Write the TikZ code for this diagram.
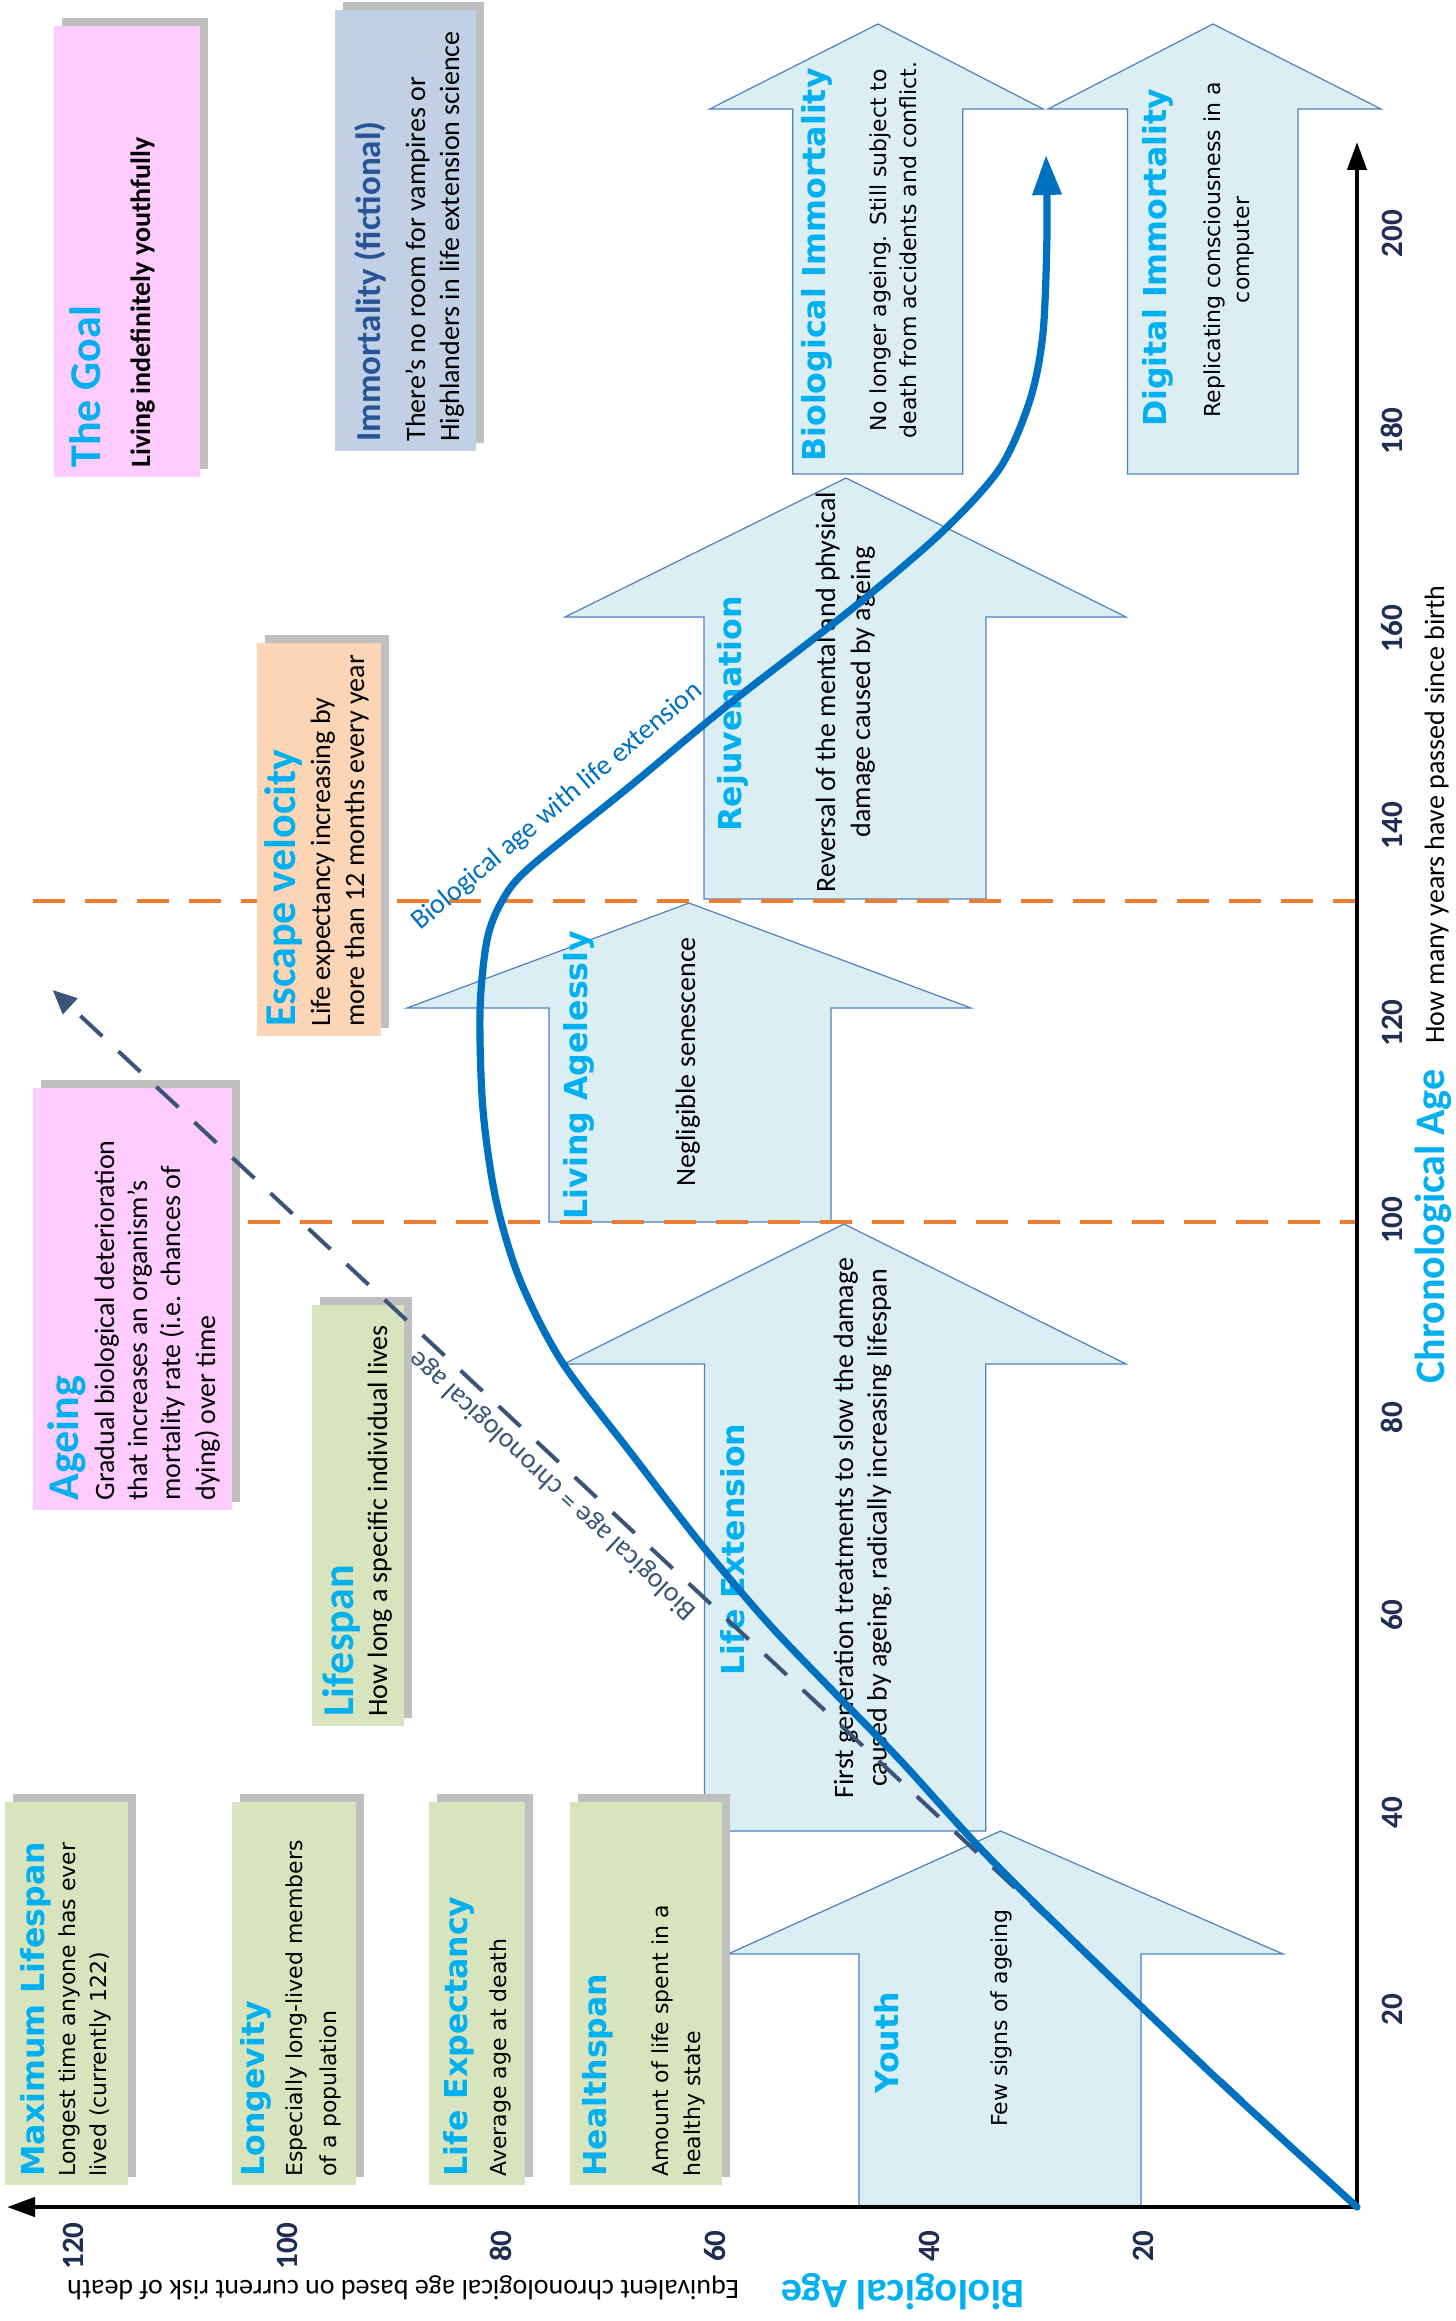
\documentclass[tikz,border=0pt]{standalone}
\usepackage{fontspec}
\setmainfont{Carlito}
\newfontfamily\dvfont{DejaVu Sans}
\usetikzlibrary{arrows.meta}
\definecolor{cyanT}{RGB}{0,176,240}
\definecolor{pinkB}{RGB}{255,204,255}
\definecolor{slateB}{RGB}{193,208,228}
\definecolor{peachB}{RGB}{251,213,181}
\definecolor{greenB}{RGB}{215,228,189}
\definecolor{shadowG}{RGB}{191,191,191}
\definecolor{arrowF}{RGB}{218,238,243}
\definecolor{arrowD}{RGB}{79,129,189}
\definecolor{curveB}{RGB}{0,112,192}
\definecolor{orangeL}{RGB}{237,125,49}
\definecolor{navyD}{RGB}{59,84,120}
\definecolor{immC}{RGB}{38,84,150}
\definecolor{tickC}{RGB}{31,45,80}
\newcommand\mybox[5]{\fill[shadowG] ({#1+8},{#2-8}) rectangle ({#3+8},{#4-8}); \fill[#5] (#1,#2) rectangle (#3,#4);}
\newcommand\lifearrow[8]{\filldraw[bigarr] (#6,#8) -- (#6,#3) -- (#4,#3) -- (#1,#2) -- (#5,#3) -- (#7,#3) -- (#7,#8) -- cycle;}
\begin{document}
\begin{tikzpicture}[x=0.5pt,y=-0.5pt,
  bigarr/.style={fill=arrowF, draw=arrowD, line width=0.6pt, line join=miter},
  orangedash/.style={draw=orangeL, line width=2pt, dash pattern=on 16pt off 10pt},
  navydash/.style={draw=navyD, line width=2pt, dash pattern=on 15pt off 11pt},
  lifecurve/.style={draw=curveB, line width=3.6pt, line cap=round},
  axisline/.style={draw=black, line width=2.2pt},
  txt/.style={rotate=90, inner sep=0pt, anchor=base west},
  ctitle/.style={txt, font=\fontsize{22}{26}\selectfont\bfseries, text=cyanT},
  cbody/.style={txt, font=\fontsize{14}{16.8}\selectfont, text=black},
  dtitle/.style={txt, font=\dvfont\bfseries\fontsize{15.8}{19}\selectfont, text=cyanT},
  dbody/.style={txt, font=\dvfont\fontsize{11}{15}\selectfont, text=black},
  ticklab/.style={rotate=90, inner sep=0pt, font=\fontsize{15.5}{18}\selectfont\bfseries, text=tickC},
]
\useasboundingbox (0,0) rectangle (1455,2321);
\fill[white] (0,0) rectangle (1455,2321);

% big arrows
\lifearrow{878}{24}{109}{709.7}{1043}{792.7}{962.7}{474}
\lifearrow{1213}{24}{109}{1048}{1381}{1127.4}{1298}{474}
\lifearrow{846}{478}{617}{565}{1126}{704}{986}{899}
\lifearrow{689}{903}{1008}{407}{971}{549}{831}{1222}
\lifearrow{844}{1224}{1364}{564}{1126}{704.5}{985.7}{1831}
\lifearrow{1000.6}{1831}{1954}{728}{1283}{859}{1141}{2205.5}

% orange dashed lines
\coordinate (OA1) at (33,901); \coordinate (OA2) at (1357,901);
\coordinate (OB1) at (248,1222); \coordinate (OB2) at (1357,1222);
\draw[orangedash] (OA1) -- (OA2);
\draw[orangedash] (OB1) -- (OB2);

% boxes
\mybox{54}{26}{200}{477}{pinkB}
\mybox{335}{10}{476}{451}{slateB}
\mybox{257}{643}{381}{1036}{peachB}
\mybox{33}{1088}{232}{1510}{pinkB}
\mybox{312}{1305}{404}{1726}{greenB}
\mybox{5}{1802}{128}{2185}{greenB}
\mybox{232}{1802}{355.5}{2185}{greenB}
\mybox{429}{1802}{525}{2185}{greenB}
\mybox{570}{1802}{721.5}{2185}{greenB}

% box texts
\node[ctitle] (goalT) at (100,468) {The Goal};
\node[cbody, font=\fontsize{14}{16.8}\selectfont\bfseries] (goalB) at (150,468) {Living indefinitely youthfully};

\node[ctitle, font=\fontsize{17.5}{21}\selectfont\bfseries, text=immC] (immTitle) at (380,442) {Immortality (fictional)};
\node[cbody] (immB1) at (425,442) {There’s no room for vampires or};
\node[cbody] (immB2) at (459,442) {Highlanders in life extension science};

\node[ctitle] (escT) at (295,1027) {Escape velocity};
\node[cbody] (escB1) at (330,1027) {Life expectancy increasing by};
\node[cbody] (escB2) at (364,1027) {more than 12 months every year};

\node[ctitle] (ageT) at (78,1501) {Ageing};
\node[cbody] (ageB1) at (114,1501) {Gradual biological deterioration};
\node[cbody] (ageB2) at (147,1501) {that increases an organism’s};
\node[cbody] (ageB3) at (180,1501) {mortality rate (i.e. chances of};
\node[cbody] (ageB4) at (215,1501) {dying) over time};

\node[ctitle] (lsT) at (353,1717) {Lifespan};
\node[cbody] (lsB) at (387,1717) {How long a specific individual lives};

\node[dtitle] (mlT) at (44,2177) {Maximum Lifespan};
\node[dbody] (mlB1) at (75,2177) {Longest time anyone has ever};
\node[dbody] (mlB2) at (106,2177) {lived (currently 122)};

\node[dtitle] (lgT) at (264,2177) {Longevity};
\node[dbody] (lgB1) at (302.5,2177) {Especially long-lived members};
\node[dbody] (lgB2) at (336,2177) {of a population};

\node[dtitle] (leT2) at (467,2177) {Life Expectancy};
\node[dbody] (leB3) at (506,2177) {Average age at death};

\node[dtitle] (hsT) at (606,2177) {Healthspan};
\node[dbody] (hsB1) at (668.5,2177) {Amount of life spent in a};
\node[dbody] (hsB2) at (700,2177) {healthy state};

% arrow texts
\node[dtitle, anchor=base] (biT) at (825,265) {Biological Immortality};
\node[dbody, anchor=base] (biB1) at (886,250) {No longer ageing. Still subject to};
\node[dbody, anchor=base] (biB2) at (916,250) {death from accidents and conflict.};
\node[dtitle, anchor=base] (diT) at (1166,258) {Digital Immortality};
\node[dbody, anchor=base] (diB1) at (1220,250) {Replicating consciousness in a};
\node[dbody, anchor=base] (diB2) at (1249,250) {computer};
\node[dtitle, anchor=base] (rjT) at (741,714) {Rejuvenation};
\node[cbody, anchor=base] (rjB1) at (835,692) {Reversal of the mental and physical};
\node[cbody, anchor=base] (rjB2) at (870,692) {damage caused by ageing};
\node[dtitle, anchor=base] (laT) at (587,1075) {Living Agelessly};
\node[cbody, anchor=base] (laB) at (695,1062) {Negligible senescence};
\node[dtitle, anchor=base] (leT) at (744,1549.5) {Life Extension};
\node[cbody, anchor=base] (leB1) at (853,1528) {First generation treatments to slow the damage};
\node[cbody, anchor=base] (leB2) at (886.5,1528) {caused by ageing, radically increasing lifespan};
\node[dtitle, anchor=base] (yoT) at (898,2043) {Youth};
\node[dbody, anchor=base] (yoB) at (1007,2018) {Few signs of ageing};

% axes
\coordinate (O) at (1357,2207);
\coordinate (CT) at (1357,142);
\coordinate (BT) at (7,2207);
\draw[axisline, -{Triangle[length=14pt,width=9.5pt]}] (O) -- (CT);
\draw[axisline, -{Triangle[length=14pt,width=9.5pt]}] (O) -- (BT);
\foreach \v in {20,40,...,200} \node[ticklab] (c\v) at (1392,{2207-\v*9.866}) {\v};
\foreach \v in {20,40,...,120} \node[ticklab] (b\v) at ({1357-\v*10.7},2246) {\v};
\node[txt] (chronT) at (1444,1384) {{\fontsize{21}{25}\selectfont\bfseries\color{cyanT}Chronological Age}\hspace{13pt}{\fontsize{14}{17}\selectfont How many years have passed since birth}};
\node[rotate=180, inner sep=0pt, anchor=base west] (bioT) at (1025,2280) {{\fontsize{21}{25}\selectfont\bfseries\color{cyanT}Biological Age}\hspace{21pt}{\fontsize{14}{17}\selectfont Equivalent chronological age based on current risk of death}};

% biological = chronological
\coordinate (EQ) at (52.7,990);
\draw[navydash, -{Triangle[length=12pt,width=10.5pt]}] (O) -- (EQ);
\node[rotate=137, inner sep=0pt, font=\fontsize{14}{17}\selectfont, text=navyD] (eqlab) at (553,1485) {Biological age = chronological age};

% life extension curve
\coordinate (CTIP) at (1046,155);
\draw[lifecurve, -{Triangle[length=20pt,width=14pt]}] plot[smooth, tension=0.5] coordinates {(O) (1214,2076) (1060,1928) (980,1848) (900,1760) (830,1688) (768,1623) (701,1544) (634,1457) (562,1362) (520,1280) (496,1200) (483,1110) (480,1011) (487,940) (502,901) (529,868) (629,787) (728,705) (853,608) (942,532) (1000,468) (1030,400) (1043,333) (1047,233) (CTIP)};
\node[rotate=40, inner sep=0pt, anchor=base, font=\fontsize{14}{17}\selectfont, text=curveB] (bioext) at (562,812) {Biological age with life extension};
\end{tikzpicture}
\end{document}
